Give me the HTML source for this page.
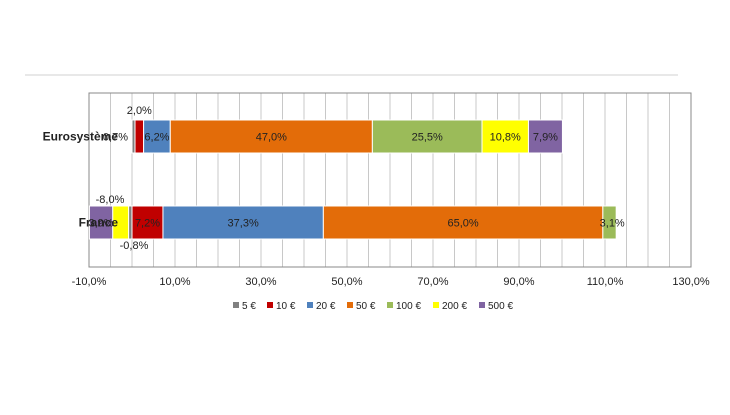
<!DOCTYPE html>
<html><head><meta charset="utf-8"><style>
body{margin:0;background:#fff;width:730px;height:410px;overflow:hidden;font-family:"Liberation Sans",sans-serif}
</style></head><body>
<svg width="730" height="410" id="c" font-family="Liberation Sans, sans-serif">
<line x1="25" y1="75" x2="678" y2="75" stroke="#d0d0d0"/>
</svg>
<script>
const categories=["Eurosystème","France"];
const series=["5 €","10 €","20 €","50 €","100 €","200 €","500 €"];
const colors=["#808080","#c00000","#4f81bd","#e36c09","#9bbb59","#ffff00","#8064a2"];
const euroValues=[0.7,2.0,6.2,47.0,25.5,10.8,7.9];
const franceValues=[-0.8,7.2,37.3,65.0,3.1,-3.7,-5.4];
const euroLabels=["0,7%","2,0%","6,2%","47,0%","25,5%","10,8%","7,9%"];
const franceLabels=["-0,8%","7,2%","37,3%","65,0%","3,1%","","3,9%"];
const ticks=[-10,10,30,50,70,90,110,130];
const tickLabels=["-10,0%","10,0%","30,0%","50,0%","70,0%","90,0%","110,0%","130,0%"];
const ns="http://www.w3.org/2000/svg",svg=document.getElementById('c');
const X0=89,X1=691,T=93,B=267,xmin=-10,xmax=130;
const x=v=>X0+(Math.max(v,xmin)-xmin)/(xmax-xmin)*(X1-X0);
function mk(t,a,p){const e=document.createElementNS(ns,t);for(const k in a)e.setAttribute(k,a[k]);(p||svg).appendChild(e);return e;}
for(let v=-10;v<=130;v+=5){const l=mk('line',{x1:x(v),x2:x(v),y1:T,y2:B,stroke:'#c8c8c8'});

}
const fr=mk('rect',{x:X0,y:T,width:X1-X0,height:B-T,fill:'none',stroke:'#888'});


ticks.forEach((v,i)=>{const t=mk('text',{x:x(v),y:285,'text-anchor':'middle','font-size':11,fill:'#222'});t.textContent=tickLabels[i];

});
const rows=[{vals:euroValues,labels:euroLabels,y:120},{vals:franceValues,labels:franceLabels,y:206}];
const h=33;
rows.forEach((r,ri)=>{let pos=0,neg=0;
 r.vals.forEach((v,i)=>{let a,b;if(v>=0){a=pos;b=pos+v;pos=b;}else{a=neg+v;b=neg;neg=a;}
  const rc=mk('rect',{x:x(a),y:r.y,width:Math.max(0,x(b)-x(a)),height:h,fill:colors[i],stroke:'#fff','stroke-width':1});
  
  
  const lab=r.labels[i];if(!lab)return;
  let lx=(x(a)+x(b))/2,ly=r.y+h/2+4,anc='middle';
  if(Math.abs(v)<1.5){ if(ri===0){lx=x(a)-4;anc='end';}else{lx=x(b)+2;ly=r.y+h+10;}}
  else if(ri===0&&i===1){ly=r.y-6;}
  if(ri===1&&i===4){lx=x(b)-4;}
  const t=mk('text',{x:lx,y:ly,'text-anchor':anc,'font-size':11,fill:'#222'});t.textContent=lab;
  
  });
 const c=mk('text',{x:118,y:r.y+h/2+4,'text-anchor':'end','font-size':12,'font-weight':'bold',fill:'#222'});c.textContent=categories[ri];
 
 
});
const tot=mk('text',{x:110,y:203,'text-anchor':'middle','font-size':11,fill:'#222'});tot.textContent="-8,0%";


let lx=233;
series.forEach((s,i)=>{const g=mk('g',{});
 
 
 mk('rect',{x:lx,y:302,width:6,height:6,fill:colors[i]},g);
 const t=mk('text',{x:lx+9,y:309,'font-size':10,fill:'#222'},g);t.textContent=s;
 lx+=s.length>3?(s.length>4?46:40):34;});
</script>
</body></html>
